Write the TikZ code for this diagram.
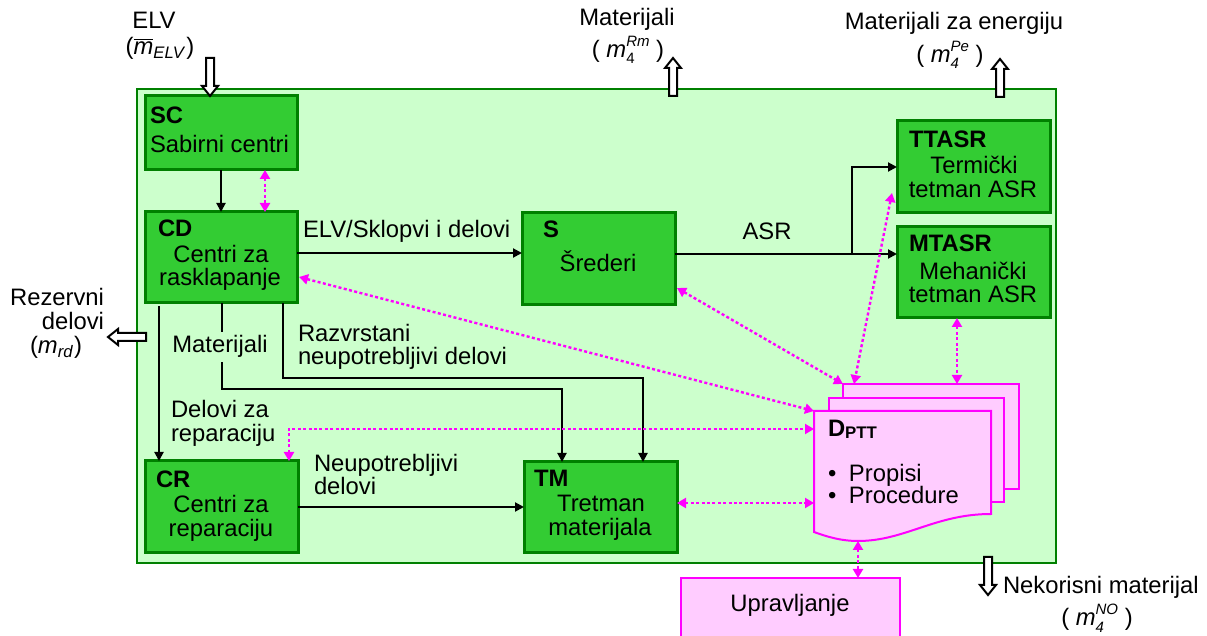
\documentclass[tikz,border=0pt]{standalone}
\usepackage{fontspec}
\setmainfont{Liberation Sans}
\usetikzlibrary{arrows.meta,calc}
\definecolor{lgreen}{HTML}{CCFFCC}
\definecolor{dgreen}{HTML}{008000}
\definecolor{bgreen}{HTML}{33CC33}
\definecolor{mag}{HTML}{FF00FF}
\definecolor{pinkfill}{HTML}{FFCCFF}
\newcommand{\mysmall}{\fontsize{7.5}{8}\selectfont}
\newlength\mtermw
\newsavebox\mtermsup
\newsavebox\mtermsub
\newcommand{\mterm}[2]{\textit{m}\sbox\mtermsup{\mysmall\textit{#1}}\sbox\mtermsub{\mysmall #2}%
 \ifdim\wd\mtermsup>\wd\mtermsub \setlength\mtermw{\wd\mtermsup}\else\setlength\mtermw{\wd\mtermsub}\fi
 \makebox[\mtermw][l]{\rlap{\raisebox{5.7pt}{\usebox\mtermsup}}\raisebox{-3pt}{\usebox\mtermsub}}}
\begin{document}
\begin{tikzpicture}[x=0.5pt,y=-0.5pt,
 every node/.style={inner sep=0pt, outer sep=0pt, font=\fontsize{11.9}{11.5}\selectfont},
 box/.style={draw=dgreen, fill=bgreen, line width=1.5pt},
 lt/.style={anchor=base west},
 ct/.style={anchor=base},
 rt/.style={anchor=base east},
 arr/.style={line width=1pt, -{Triangle[length=4.5pt,width=4.5pt]}},
 marr/.style={mag, line width=1.2pt, dash pattern=on 1.5pt off 1.2pt, {Triangle[length=4.5pt,width=5pt]}-{Triangle[length=4.5pt,width=5pt]}},
 docst/.style={draw=mag, fill=pinkfill, line width=1pt},
 harrow/.pic={\draw[line width=1pt, fill=white] (-4,0) -- (-4,28) -- (-8,28) -- (0,38) -- (8,28) -- (4,28) -- (4,0) -- cycle;},
]
\useasboundingbox (0,0) rectangle (1207,636);
\clip (0,0) rectangle (1207,636);

% system frame
\node[draw=dgreen, fill=lgreen, line width=1pt, minimum width=459.5pt, minimum height=237pt] (sys) at (596.5,326) {};

% boxes
\node[box, minimum width=76pt, minimum height=37pt] (sc) at (221,133) {};
\node[box, minimum width=76pt, minimum height=45.5pt] (cd) at (221,257.5) {};
\node[box, minimum width=76.5pt, minimum height=46pt] (cr) at (221.5,507) {};
\node[box, minimum width=76.5pt, minimum height=46pt] (s) at (598.5,259) {};
\node[box, minimum width=76.5pt, minimum height=45.5pt] (tm) at (600.5,507.5) {};
\node[box, minimum width=76.5pt, minimum height=46pt] (tt) at (973.5,167) {};
\node[box, minimum width=76.5pt, minimum height=45.5pt] (mt) at (973.5,272.5) {};

% Upravljanje
\node[draw=mag, fill=pinkfill, line width=1pt, minimum width=109.5pt, minimum height=40pt, anchor=north west] (up) at (681,578) {};

% document stack
\draw[docst] (843,384) rectangle (1019,489);
\draw[docst] (829,398) rectangle (1004,502);
\draw[docst] (814,411) -- (991,411) -- (991,514) .. controls (935,514) and (905,541) .. (858,541) .. controls (840,541) and (825,536) .. (814,532) -- cycle;
\node[minimum width=88.5pt, minimum height=60.5pt] (dptt) at (902.5,471.5) {};
\coordinate (d3) at (843,384);
\coordinate (d3b) at (854,384);
\coordinate (d3c) at (957,384);
\coordinate (dcr) at (814,429);
\coordinate (dtm) at (814,503);
\coordinate (dbot) at (858,541);

% hollow arrows
\pic at (210,58) {harrow};
\pic[rotate=180] at (673,96) {harrow};
\pic[rotate=180] at (1000,97) {harrow};
\pic[rotate=-90] at (146,337) {harrow};
\pic at (988,557) {harrow};

% black connectors
\draw[arr] (sc.south) -- (cd.north);
\coordinate (c1) at ($(cd.east)+(0,-4.5)$);
\draw[arr] (c1) -- (c1 -| s.west);
\coordinate (c2) at ($(s.east)+(0,-5)$);
\draw[arr] (c2) -- (c2 -| mt.west);
\coordinate (br) at (852,254);
\draw[arr] (br) |- (tt.west);
\draw[arr] ($(cd.south west)+(14,3)$) -- ($(cr.north west)+(14,0)$);
\draw[arr] ($(cd.south)+(1,0)$) |- ($(tm.north west)+(38,-73)$) -- ($(tm.north west)+(38,0)$);
\draw[arr] ($(cd.south east)+(-14,0)$) |- ($(tm.north west)+(119,-84)$) -- ($(tm.north west)+(119,0)$);
\draw[arr] (cr.east) -- (cr.east -| tm.west);

% magenta dotted connectors
\draw[marr] ($(sc.south east)+(-32,0)$) -- ($(cd.north east)+(-32,0)$);
\draw[marr] ($(cd.east)+(2,19.5)$) -- (dptt.north west);
\draw[marr] ($(s.east)+(2,29)$) -- (d3);
\draw[marr] ($(tt.south west)+(-5,-20)$) -- (d3b);
\draw[marr] (mt.south -| d3c) -- (d3c);
\draw[marr] ($(cr.north east)+(-9,0)$) |- (dcr);
\draw[marr] (tm.east |- dtm) -- (dtm);
\draw[marr] (dbot) -- (up.north -| dbot);

% outer labels
\node[ct] (telv) at (154,28.5) {ELV};
\node[ct] (tmelv) at (160,55) {($\overline{\mbox{\textit{m}}}$\textsubscript{\textit{ELV}})};
\node[ct] (tmat) at (627,26) {Materijali};
\node[ct] (tmrm) at (628,58) {( \mterm{Rm}{4} )};
\node[ct] (tmen) at (954,30) {Materijali za energiju};
\node[ct] (tmpe) at (950,63) {( \mterm{Pe}{\textit{4}} )};
\node[rt] (trez1) at (104,306) {Rezervni};
\node[rt] (trez2) at (104,330) {delovi};
\node[ct] (tmrd) at (56,354) {(\textit{m}\textsubscript{\textit{rd}})};
\node[lt] (tnek) at (1003,594) {Nekorisni materijal};
\node[ct] (tmno) at (1097,626) {( \mterm{NO}{\textit{4}} )};
\node[ct] (tupr) at (790,612) {Upravljanje};

% box texts
\node[lt] (hsc) at (150,124) {\textbf{SC}};
\node[lt] (bsc) at (150,153) {Sabirni centri};
\node[lt] (hcd) at (158,237) {\textbf{CD}};
\node[ct] (bcd1) at (221,263) {Centri za};
\node[ct] (bcd2) at (220,286) {rasklapanje};
\node[lt] (hcr) at (156,488) {\textbf{CR}};
\node[ct] (bcr1) at (221,513) {Centri za};
\node[ct] (bcr2) at (221,537) {reparaciju};
\node[lt] (hs) at (543,238) {\textbf{S}};
\node[ct] (bs) at (598,272) {Šrederi};
\node[lt] (htm) at (534,487) {\textbf{TM}};
\node[ct] (btm1) at (601,512) {Tretman};
\node[ct] (btm2) at (600,536) {materijala};
\node[lt] (htt) at (909,148) {\textbf{TTASR}};
\node[ct] (btt1) at (974,174) {Termički};
\node[ct] (btt2) at (973,198) {tetman ASR};
\node[lt] (hmt) at (909,252) {\textbf{MTASR}};
\node[ct] (bmt1) at (973,280) {Mehanički};
\node[ct] (bmt2) at (973,303) {tetman ASR};
\node[lt] (hd) at (828,437) {\textbf{D}\raisebox{-0.7pt}{\fontsize{8.4}{9}\selectfont\bfseries PTT}};
\node[lt] (bd1) at (828,482) {\makebox[10.5pt][l]{•}Propisi};
\node[lt] (bd2) at (828,504) {\makebox[10.5pt][l]{•}Procedure};

% connector labels
\node[lt] (lelv) at (303,238) {ELV/Sklopvi i delovi};
\node[ct] (lasr) at (767,240) {ASR};
\node[ct, fill=lgreen, inner sep=2pt] (lmat) at (220,353) {Materijali};
\node[lt] (lraz1) at (298,342) {Razvrstani};
\node[lt] (lraz2) at (298,365) {neupotrebljivi delovi};
\node[lt] (ldel1) at (171,418) {Delovi za};
\node[lt] (ldel2) at (171,442) {reparaciju};
\node[lt] (lneu1) at (314,472) {Neupotrebljivi};
\node[lt] (lneu2) at (314,495) {delovi};
\end{tikzpicture}
\end{document}
